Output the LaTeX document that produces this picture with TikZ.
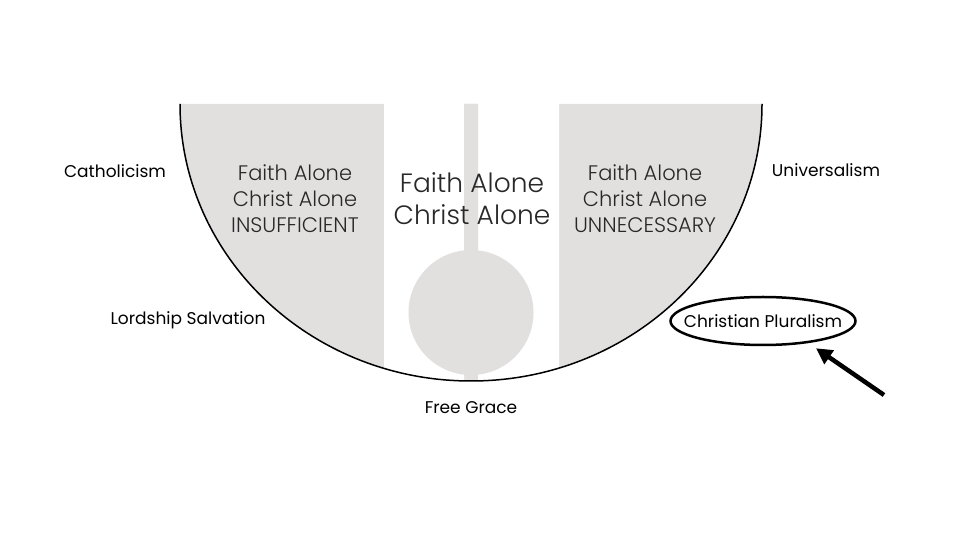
\documentclass[tikz,border=0pt]{standalone}
\usepackage{fontspec}
\setmainfont{Poppins}
\newfontfamily\thinfont{Poppins}[UprightFont=* Light]
\usepackage{tikz}
\usetikzlibrary{calc}
\usetikzlibrary{arrows.meta,shapes,positioning}
\usepackage{xcolor}
\definecolor{paleGrey}{RGB}{226,223,223}
\definecolor{inkGrey}{RGB}{40,40,40}

\begin{document}
\begin{tikzpicture}[x=1pt,y=1pt,
    sect/.style={font=\fontsize{17}{20}\selectfont, text=black},
    creed/.style={align=center, font=\thinfont\fontsize{21}{26}\selectfont, text=inkGrey},
    bigcreed/.style={align=center, font=\thinfont\fontsize{26.5}{32}\selectfont, text=inkGrey},
    pointer/.style={line width=4.5pt, -{Triangle[length=16pt,width=16pt]}}]
    \useasboundingbox (0,0) rectangle (960,540);
    % the half disc, cut into strips with a stem and a ball
    \fill[paleGrey] (180,436) arc[start angle=180, end angle=360, x radius=291, y radius=277] -- cycle;
    \fill[white] (384,159) rectangle (464,437) (478,159) rectangle (559,437);
    \fill[paleGrey] (464,436) rectangle (478,227) (471,227.5) circle[radius=62.5];
    \draw[line width=1.5pt] (180,436) arc[start angle=180, end angle=360, x radius=291, y radius=277];
    \node[creed] (insuff) at (295,341) {Faith Alone\\Christ Alone\\INSUFFICIENT};
    \node[bigcreed] (alone) at (472,341) {Faith Alone\\Christ Alone};
    \node[creed] (unnec) at (645,341) {Faith Alone\\Christ Alone\\UNNECESSARY};
    \node[sect] (cath) at (115,369) {Catholicism};
    \node[sect] (lord) at (188,220) {Lordship Salvation};
    \node[sect] (free) at (471,132) {Free Grace};
    \node[sect] (univ) at (826,370) {Universalism};
    \node[sect, draw, ellipse, line width=2.5pt, minimum width=185pt, minimum height=48pt, inner xsep=-16pt, inner ysep=0pt] (plural) at (763,219) {Christian Pluralism};
    \coordinate (tail) at (884,145);
    \draw[pointer] (tail) -- ($(plural.south)+(53,-2)$);
\end{tikzpicture}
\end{document}
